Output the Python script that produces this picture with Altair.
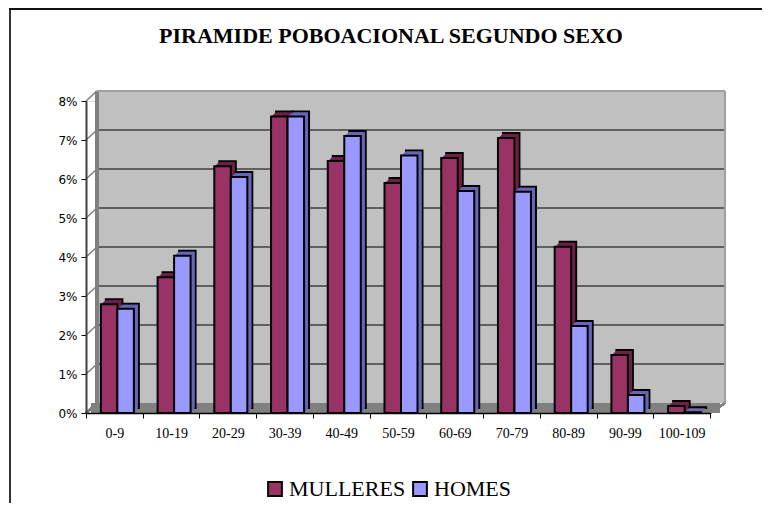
import altair as alt
import pandas as pd

categories = ["0-9", "10-19", "20-29", "30-39", "40-49", "50-59",
              "60-69", "70-79", "80-89", "90-99", "100-109"]
mulleres = [2.79, 3.48, 6.33, 7.60, 6.46, 5.90, 6.54, 7.05, 4.26, 1.49, 0.18]
homes = [2.67, 4.03, 6.05, 7.60, 7.10, 6.60, 5.69, 5.67, 2.23, 0.46, 0.02]
series = ["MULLERES", "HOMES"]
colors = ["#993366", "#9999FF"]
shades = ["#6e2046", "#6666b8"]
y_ticks = [0, 1, 2, 3, 4, 5, 6, 7, 8]
title_text = "PIRAMIDE POBOACIONAL SEGUNDO SEXO"

rows = []
for c, m, h in zip(categories, mulleres, homes):
    rows.append({"grupo": c, "sexo": series[0], "valor": m})
    rows.append({"grupo": c, "sexo": series[1], "valor": h})
df = pd.DataFrame(rows)
grid_df = pd.DataFrame({"valor": y_ticks[1:-1]})
side_df = pd.DataFrame({"valor": y_ticks})
title_df = pd.DataFrame({"texto": [title_text]})

W, H = 624, 312
D = 10      # wall depth in px
B = 5       # bar depth in px
SHIFT = 3
BW = 16.5   # bar width

xscale = alt.Scale(domain=categories, paddingInner=0, paddingOuter=0)
yscale = alt.Scale(domain=[0, 8], nice=False)
xaxis = alt.Axis(title=None, tickBand="extent", labelAngle=0,
                 labelFont="Liberation Serif", labelFontSize=14,
                 labelColor="black", domainColor="black", tickColor="black",
                 tickSize=5, labelPadding=8, grid=False, domainWidth=1.5, zindex=1)
yaxis = alt.Axis(title=None, values=y_ticks, labelExpr="datum.value + '%'",
                 labelFont="DejaVu Sans", labelFontSize=12, labelColor="black",
                 domainColor="#404040", domainWidth=2, tickColor="black",
                 tickSize=5, labelPadding=4, grid=False, zindex=1)

# back wall
wall = alt.Chart(df).mark_rect(color="#c0c0c0").encode(
    x=alt.value(D + 1), x2=alt.value(W + 15), y=alt.value(-D), y2=alt.value(H - D)
)
floor = alt.Chart(df).mark_rect(color="#808080").encode(
    x=alt.value(5), x2=alt.value(W + 10), y=alt.value(H - D), y2=alt.value(H)
)
floor_left = alt.Chart(df).mark_rule(color="#808080", strokeWidth=2).encode(
    x=alt.value(0), x2=alt.value(D + 1), y=alt.value(H), y2=alt.value(H - D)
)
floor_right = alt.Chart(df).mark_rule(color="#808080", strokeWidth=2).encode(
    x=alt.value(W), x2=alt.value(W + 15), y=alt.value(H), y2=alt.value(H - D)
)

grid = alt.Chart(grid_df).mark_rule(color="black", strokeWidth=1, yOffset=-D).encode(
    x=alt.value(D + 1), x2=alt.value(W + 15),
    y=alt.Y("valor:Q", scale=yscale, axis=yaxis)
)
side_grid = alt.Chart(side_df).mark_rule(color="#808080", strokeWidth=1.5, y2Offset=-D).encode(
    x=alt.value(0), x2=alt.value(D + 1),
    y=alt.Y("valor:Q", scale=yscale, axis=yaxis), y2="valor:Q"
)
wall_left = alt.Chart(df).mark_rule(color="#808080", strokeWidth=2.5).encode(
    x=alt.value(D + 1), y=alt.value(-D), y2=alt.value(H - D)
)
wall_right = alt.Chart(df).mark_rule(color="#a0a0a0", strokeWidth=2).encode(
    x=alt.value(W + 15), y=alt.value(-D), y2=alt.value(H - D)
)
wall_top = alt.Chart(df).mark_rule(color="#a0a0a0", strokeWidth=2).encode(
    x=alt.value(D + 1), x2=alt.value(W + 15), y=alt.value(-D)
)

legend = alt.Legend(title=None, orient="none", direction="horizontal",
                    legendX=178, legendY=377,
                    symbolType="square", symbolSize=190,
                    symbolStrokeColor="black", symbolStrokeWidth=2,
                    symbolOpacity=1,
                    labelFont="Liberation Serif", labelFontSize=22,
                    labelColor="black", columnPadding=3, labelOffset=3)

bar_layers = []
for s, sign, shade in zip(series, [-1, 1], shades):
    off = sign * BW / 2 + SHIFT
    base = alt.Chart(df).transform_filter(alt.datum.sexo == s)
    enc = dict(
        x=alt.X("grupo:N", sort=categories, scale=xscale, axis=xaxis),
        y=alt.Y("valor:Q", scale=yscale, axis=yaxis),
    )
    # extruded depth: back face outlined, intermediate slices fill the sides
    for k in range(B, 0, -1):
        props = dict(width=BW, color=shade, xOffset=off + k, yOffset=-k, y2Offset=-k)
        if k == B:
            props.update(stroke="black", strokeWidth=2)
        else:
            props.update(strokeWidth=0)
        bar_layers.append(base.mark_bar(**props).encode(**enc))
    fr = base.mark_bar(stroke="black", strokeWidth=2, width=BW, xOffset=off).encode(
        color=alt.Color("sexo:N", sort=series,
                        scale=alt.Scale(domain=series, range=colors),
                        legend=legend),
        **enc,
    )
    bar_layers.append(fr)

title = alt.Chart(title_df).mark_text(
    font="Liberation Serif", fontSize=22, fontWeight="bold", color="black",
    align="center", baseline="alphabetic"
).encode(text="texto:N", x=alt.value(305), y=alt.value(-58))

border_left = alt.Chart(df).mark_rule(color="#333333", strokeWidth=2).encode(
    x=alt.value(-76), y=alt.value(-92), y2=alt.value(H + 100)
)
border_top = alt.Chart(df).mark_rule(color="#111111", strokeWidth=2).encode(
    x=alt.value(-77), x2=alt.value(W + 60), y=alt.value(-92)
)

chart = alt.layer(
    wall, floor, floor_left, floor_right, grid, side_grid,
    wall_left, wall_right, wall_top,
    *bar_layers, title, border_left, border_top
).properties(
    width=W, height=H,
    padding={"left": 78, "top": 93, "right": 52, "bottom": 90},
    autosize=alt.AutoSizeParams(type="none"),
).configure_view(stroke=None).configure(background="white")

chart.save("out.html", embed_options={"renderer": "svg", "actions": False})
